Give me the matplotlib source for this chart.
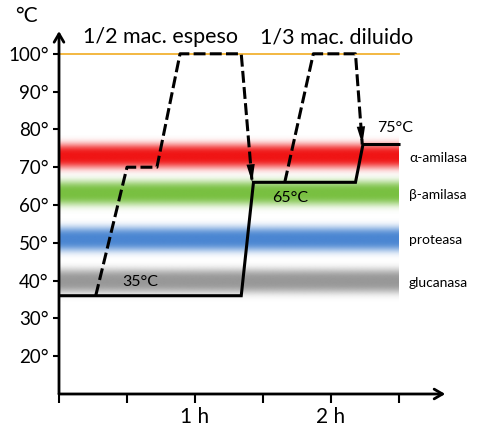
import numpy as np
import matplotlib
matplotlib.use("Agg")
import matplotlib.pyplot as plt
from matplotlib.colors import to_rgb

# ---- data ----
solid_t = [0, 1.34, 1.43, 2.18, 2.235, 2.5]
solid_v = [36, 36, 66, 66, 76, 76]
dec1_t = [0.27, 0.50, 0.72, 0.89, 1.34, 1.42]
dec1_v = [36, 70, 70, 100, 100, 66]
dec2_t = [1.66, 1.87, 2.18, 2.23]
dec2_v = [66, 100, 100, 76]
boil_t = [0, 2.5]
boil_v = [100, 100]

band_names = ["α-amilasa", "β-amilasa", "proteasa", "glucanasa"]
band_centers = [73, 63, 51, 39.8]
band_colors = ["#f01414", "#78c040", "#4a86d2", "#989898"]
band_label_y = [72.4, 62.6, 50.7, 39.4]

ytick_vals = [20, 30, 40, 50, 60, 70, 80, 90, 100]
ytick_labels = ["20°", "30°", "40°", "50°", "60°", "70°", "80°", "90°", "100°"]
xtick_vals = [0, 0.5, 1, 1.5, 2, 2.5]
xtick_labels = ["", "", "1 h", "", "2 h", ""]

plt.rcParams['font.family'] = ['Lato', 'DejaVu Sans']

fig = plt.figure(figsize=(4.87, 4.36), dpi=100)
ax = fig.add_axes([59/487, 42/436, 2.85*136/487, 96*3.78/436])
for s in ax.spines.values():
    s.set_visible(False)

# bands
ys = np.linspace(-5.5, 5.5, 200)
for c, col in zip(band_centers, band_colors):
    rgb = to_rgb(col)
    alpha = np.exp(-(np.abs(ys) / 3.2) ** 3)
    img = np.zeros((len(ys), 1, 4))
    img[:, 0, :3] = rgb
    img[:, 0, 3] = alpha
    ax.imshow(img, extent=[0, 2.5, c - 5.5, c + 5.5], origin='lower',
              aspect='auto', interpolation='bilinear', zorder=1)

ax.plot(boil_t, boil_v, color='#f2b233', lw=1.3, zorder=2)
ax.plot(solid_t, solid_v, color='black', lw=2.2, zorder=3,
        solid_joinstyle='miter')
for tt, vv in [(dec1_t, dec1_v), (dec2_t, dec2_v)]:
    ax.plot(tt, vv, color='black', lw=2.2, dashes=(3.9, 1.4), zorder=3)
    x1, y1 = tt[-1], vv[-1]
    x0, y0 = tt[-2], vv[-2]
    f = 0.12
    ax.annotate('', xy=(x1, y1), xytext=(x1 - (x1 - x0) * f, y1 - (y1 - y0) * f),
                arrowprops=dict(arrowstyle='-|>,head_length=1.3,head_width=0.3',
                                color='black', lw=0, shrinkA=0, shrinkB=0,
                                mutation_scale=10), zorder=4)

ax.set_xlim(0, 2.85)
ax.set_ylim(10, 106)

# axes arrows
ax.annotate('', xy=(0, 106), xytext=(0, 10),
            arrowprops=dict(arrowstyle='->,head_length=0.6,head_width=0.35',
                            color='black', lw=2, shrinkA=0, shrinkB=0,
                            mutation_scale=10), annotation_clip=False)
ax.annotate('', xy=(2.84, 10), xytext=(0, 10),
            arrowprops=dict(arrowstyle='->,head_length=0.6,head_width=0.35',
                            color='black', lw=2, shrinkA=0, shrinkB=0,
                            mutation_scale=10), annotation_clip=False)

ax.set_yticks(ytick_vals)
ax.set_yticklabels(ytick_labels, fontsize=13.5)
ax.set_xticks(xtick_vals)
ax.set_xticklabels(xtick_labels, fontsize=15)
ax.tick_params(axis='y', direction='out', length=4.5, width=1.5, pad=3)
ax.tick_params(axis='x', direction='out', length=6.5, width=1.5, pad=3)

ax.text(-0.243, 110.0, "°C", fontsize=15, ha='center', va='center', clip_on=False)
ax.text(0.743, 104.4, "1/2 mac. espeso", fontsize=15.5, ha='center', va='center', clip_on=False)
ax.text(2.04, 104.4, "1/3 mac. diluido", fontsize=15.5, ha='center', va='center', clip_on=False)
ax.text(2.47, 80.4, "75°C", fontsize=11.5, ha='center', va='center')
ax.text(1.70, 61.9, "65°C", fontsize=11.5, ha='center', va='center')
ax.text(0.595, 39.6, "35°C", fontsize=11.5, ha='center', va='center')
for name, yy in zip(band_names, band_label_y):
    ax.text(2.574, yy, name, fontsize=10, ha='left', va='center')

fig.savefig("out.png", dpi=100)
